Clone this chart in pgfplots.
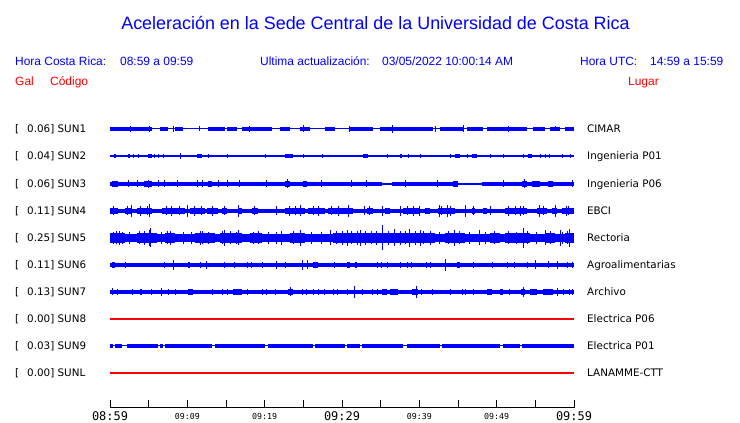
\documentclass[border=0pt]{standalone}
\usepackage{pgfplots}
\pgfplotsset{compat=1.18}
\usepackage{fontspec}
\setmainfont{Liberation Sans}
\newfontfamily\dejavu{DejaVu Sans}
\newfontfamily\dmono{DejaVu Sans Mono}
\definecolor{tblue}{RGB}{0,0,255}
\definecolor{tred}{RGB}{255,0,0}
\pgfplotsset{
  seg/.style={draw=none, forget plot, error bars/x dir=plus, error bars/x explicit,
    error bars/error mark=none, error bars/error bar style={draw=tblue, line width=#1, solid}},
  spk/.style={draw=none, forget plot, error bars/y dir=both, error bars/y explicit,
    error bars/error mark=none, error bars/error bar style={draw=tblue, line width=#1, solid}},
  base/.style={tblue, line width=#1, forget plot},
}
\begin{document}
\begin{tikzpicture}
\useasboundingbox (0,0) rectangle (740bp,423bp);
\begin{axis}[at={(110bp,0bp)}, anchor=south west, scale only axis,
  width=464bp, height=423bp, xmin=0, xmax=60, ymin=-423, ymax=0,
  hide axis, clip=false, enlargelimits=false]
% ---------------- SUN1 (row 129)
\addplot[base=1bp] coordinates {(0,-129) (60,-129)};
\addplot[seg=3.5bp] table[row sep=\\, x=a, y expr=-129, x error expr=\thisrow{b}-\thisrow{a}]
{a b\\ 0 5.43\\ 6.47 7.50\\ 8.41 9.44\\ 12.67 14.87\\ 15.13 16.42\\ 17.07 20.95\\ 21.98 23.28\\ 24.57 25.86\\ 27.80 29.09\\ 31.03 34.01\\ 34.91 41.77\\ 42.67 45.65\\ 46.16 48.23\\ 48.75 53.92\\ 54.70 56.25\\ 56.90 58.19\\ 58.84 60\\};
\addplot[spk=1bp] table[row sep=\\, x=t, y expr=-129, y error=e]
{t e\\ 2.59 3\\ 5.17 3\\ 8.15 3\\ 11.51 2.5\\ 18.10 3\\ 24.96 3.5\\ 31.03 3\\ 36.59 4\\ 42.03 3\\ 45.65 3.5\\ 51.47 3\\ 57.67 2.5\\};
% ---------------- SUN2 (row 156)
\addplot[base=1.3bp] coordinates {(0,-156) (60,-156)};
\addplot[seg=4bp] table[row sep=\\, x=a, y expr=-156, x error expr=\thisrow{b}-\thisrow{a}]
{a b\\ 4.91 5.43\\ 11.25 11.90\\ 22.63 23.66\\ 32.72 33.36\\ 44.61 45.26\\ 46.81 47.46\\ 54.05 54.57\\};
\addplot[spk=1.5bp] table[row sep=\\, x=t, y expr=-156, y error=e]
{t e\\ 0.65 2\\ 2.46 2\\ 3.04 2\\ 3.69 2\\ 5.75 2\\ 6.27 2\\ 6.92 2\\ 9.12 3\\ 12.74 2\\ 15.19 2\\ 20.11 2\\ 25.02 2\\ 27.48 2\\ 35.88 2\\ 37.63 2\\ 38.60 2\\ 40.15 2\\ 44.03 2\\ 46.23 2\\ 49.20 2\\ 50.88 2\\ 53.47 2\\ 55.67 2\\ 56.31 2\\ 56.83 2\\ 58.51 2\\ 59.55 2\\};
% ---------------- SUN3 (row 184)
\addplot[base=1.3bp] coordinates {(0,-184) (60,-184)};
\addplot[seg=3.5bp] table[row sep=\\, x=a, y expr=-184, x error expr=\thisrow{b}-\thisrow{a}]
{a b\\ 0 35.17\\ 36.47 45.0\\ 48.1 60\\};
\addplot[seg=6bp] table[row sep=\\, x=a, y expr=-184, x error expr=\thisrow{b}-\thisrow{a}]
{a b\\ 0.26 1.03\\ 4.40 5.43\\ 12.67 13.19\\ 22.63 23.28\\ 24.96 25.47\\ 44.35 45.0\\ 53.27 53.92\\ 54.57 55.60\\ 56.64 57.28\\};
\addplot[spk=1bp] table[row sep=\\, x=t, y expr=-184, y error=e]
{t e\\ 2.33 3.5\\ 3.62 3.5\\ 5.0 4\\ 6.21 3.5\\ 7.11 3.5\\ 8.79 3.5\\ 11.25 3.5\\ 11.90 3.5\\ 13.97 3.5\\ 15.13 3.5\\ 16.81 3.5\\ 20.30 3.5\\ 23.0 4.5\\ 27.41 3.5\\ 31.29 3.5\\ 33.23 3.5\\ 38.15 3.5\\ 42.41 3.5\\ 50.82 3.5\\ 53.6 4.5\\ 59.87 3.5\\};
% ---------------- SUN4 (row 211)
\addplot[base=1bp] coordinates {(0,-211) (60,-211)};
\addplot[seg=4bp] table[row sep=\\, x=a, y expr=-211, x error expr=\thisrow{b}-\thisrow{a}]
{a b\\ 0 60\\};
\addplot[seg=6.5bp] table[row sep=\\, x=a, y expr=-211, x error expr=\thisrow{b}-\thisrow{a}]
{a b\\ 0 1.03\\ 1.94 2.84\\ 3.49 5.43\\ 6.72 9.70\\ 10.34 12.28\\ 12.54 13.97\\ 14.48 15.13\\ 16.55 17.07\\ 18.36 19.14\\ 22.63 25.22\\ 25.60 27.80\\ 28.19 31.42\\ 33.23 34.01\\ 35.56 36.21\\ 37.89 40.09\\ 40.73 41.38\\ 42.41 44.61\\ 46.81 47.20\\ 48.23 48.75\\ 51.08 53.92\\ 55.22 56.51\\ 57.15 57.80\\ 58.45 60\\};
\addplot[spk=1bp] table[row sep=\\, x=t, y expr=-211, y error=e]
{t e\\ 0.5 4.5\\ 2.2 4.5\\ 2.72 6\\ 4.0 5\\ 4.8 4.5\\ 5.17 6.5\\ 7.3 4.5\\ 8.0 5\\ 9.0 4.5\\ 9.96 6\\ 10.99 5\\ 11.8 4.5\\ 13.2 5\\ 14.8 4.5\\ 16.68 6\\ 18.7 4.5\\ 21.59 4.5\\ 23.2 5\\ 24.0 4.5\\ 24.57 5.5\\ 26.3 4.5\\ 27.0 5\\ 28.7 4.5\\ 29.6 5\\ 30.78 6\\ 32.97 4.5\\ 33.6 4.5\\ 35.30 5\\ 37.50 5\\ 38.5 4.5\\ 39.3 5\\ 39.96 5\\ 42.67 6\\ 42.9 4.5\\ 43.58 6\\ 44.0 5\\ 45.91 6\\ 47.0 4.5\\ 49.14 4.5\\ 51.5 5\\ 52.4 4.5\\ 53.02 5\\ 53.5 4.5\\ 55.60 6\\ 56.0 4.5\\ 57.67 6\\ 58.97 5\\ 59.3 4.5\\};
% ---------------- SUN5 (row 238)
\addplot[base=1bp] coordinates {(0,-238) (60,-238)};
\addplot[seg=8bp] table[row sep=\\, x=a, y expr=-238, x error expr=\thisrow{b}-\thisrow{a}]
{a b\\ 0 60\\};
\addplot[seg=10bp] table[row sep=\\, x=a, y expr=-238, x error expr=\thisrow{b}-\thisrow{a}]
{a b\\ 0 1.94\\ 3.49 6.08\\ 7.11 8.41\\ 10.99 13.58\\ 14.22 17.07\\ 18.10 19.66\\ 23.28 25.22\\ 28.84 42.03\\ 43.32 45.91\\ 49.14 50.43\\ 51.08 54.31\\ 56.25 57.54\\ 58.84 60\\};
\addplot[spk=1bp] table[row sep=\\, x=t, y expr=-238, y error=e]
{t e\\ 0.4 6\\ 0.9 6.5\\ 1.29 7\\ 1.6 6\\ 2.5 6\\ 3.8 6.5\\ 4.4 7\\ 5.17 8\\ 5.30 9.5\\ 6.6 6\\ 7.4 6.5\\ 7.76 7\\ 9.5 6\\ 10.5 6\\ 11.64 7\\ 12.0 6.5\\ 12.8 6\\ 14.5 6.5\\ 14.87 8\\ 15.6 6.5\\ 16.3 6\\ 16.68 7.5\\ 18.6 6\\ 19.2 6.5\\ 20.5 6\\ 21.5 6\\ 22.24 7\\ 23.7 6.5\\ 24.57 8\\ 26.0 6\\ 27.3 6\\ 28.45 7.5\\ 29.3 6.5\\ 30.0 7\\ 30.65 8\\ 31.2 6.5\\ 32.0 7\\ 32.33 8\\ 33.0 7\\ 33.8 6.5\\ 34.5 7\\ 35.30 12.5\\ 36.0 7\\ 36.85 8.5\\ 37.5 7\\ 38.2 6.5\\ 38.79 9\\ 39.5 7\\ 40.09 8\\ 40.6 6.5\\ 41.4 7\\ 42.6 6\\ 43.8 6.5\\ 44.61 8\\ 45.2 6.5\\ 46.5 6\\ 47.84 7.5\\ 48.5 6\\ 49.7 6.5\\ 51.5 6.5\\ 52.6 6\\ 53.41 10\\ 54.0 6.5\\ 55.2 6\\ 56.25 7.5\\ 57.0 6.5\\ 58.19 8\\ 58.5 6\\ 59.2 6.5\\ 59.48 9\\};
% ---------------- SUN6 (row 265)
\addplot[base=1bp] coordinates {(0,-265) (60,-265)};
\addplot[seg=3.5bp] table[row sep=\\, x=a, y expr=-265, x error expr=\thisrow{b}-\thisrow{a}]
{a b\\ 0 60\\};
\addplot[seg=6bp] table[row sep=\\, x=a, y expr=-265, x error expr=\thisrow{b}-\thisrow{a}]
{a b\\ 0.26 0.65\\ 26.25 26.90\\ 30.65 31.03\\ 31.68 31.94\\ 44.87 45.26\\};
\addplot[spk=1bp] table[row sep=\\, x=t, y expr=-265, y error=e]
{t e\\ 1.94 3\\ 7.11 3\\ 8.15 5\\ 10.09 3\\ 10.34 3\\ 11.64 3\\ 12.54 4\\ 14.87 3\\ 16.16 3\\ 17.72 3\\ 18.36 3\\ 19.66 3\\ 21.47 4\\ 22.63 3\\ 24.83 5\\ 25.54 4.5\\ 29.09 3\\ 34.65 3\\ 35.17 3\\ 35.82 3\\ 37.50 3\\ 38.41 3\\ 39.05 3\\ 40.99 3\\ 41.38 3\\ 43.32 6\\ 46.94 3\\ 49.40 3\\ 51.34 3\\ 52.37 3\\ 54.05 3\\ 54.96 4.5\\ 56.64 3.5\\ 57.93 4\\ 59.22 3\\ 59.87 3\\};
% ---------------- SUN7 (row 292)
\addplot[base=1bp] coordinates {(0,-292) (60,-292)};
\addplot[seg=3.5bp] table[row sep=\\, x=a, y expr=-292, x error expr=\thisrow{b}-\thisrow{a}]
{a b\\ 0 60\\};
\addplot[seg=6bp] table[row sep=\\, x=a, y expr=-292, x error expr=\thisrow{b}-\thisrow{a}]
{a b\\ 3.88 4.14\\ 10.09 10.73\\ 15.91 17.07\\ 23.02 23.66\\ 35.17 35.82\\ 36.21 37.24\\ 39.05 39.83\\ 48.75 49.40\\ 50.43 50.82\\ 53.15 53.66\\ 54.31 55.22\\ 55.99 57.28\\};
\addplot[spk=1bp] table[row sep=\\, x=t, y expr=-292, y error=e]
{t e\\ 0.26 3.5\\ 1.03 3\\ 2.97 3\\ 5.43 3\\ 6.72 4\\ 7.50 3\\ 8.41 3\\ 13.19 3\\ 14.61 3\\ 15.13 3\\ 17.72 3\\ 19.66 3\\ 20.30 3\\ 21.34 3\\ 23.3 4.5\\ 24.83 3\\ 25.47 3\\ 26.25 3\\ 26.90 3\\ 27.80 3\\ 28.84 3\\ 29.48 3\\ 30.65 3\\ 31.68 6\\ 32.59 3\\ 33.88 3\\ 34.65 3\\ 39.57 6\\ 40.34 3\\ 41.64 3\\ 43.97 3\\ 45.52 3\\ 45.91 3\\ 46.94 3\\ 51.72 3\\ 53.41 5\\ 57.93 4\\ 58.58 3\\ 59.48 3\\ 59.87 3\\};
% ---------------- SUN8 (row 319)
\addplot[tred, line width=1.2bp, forget plot] coordinates {(0,-319) (60,-319)};
% ---------------- SUN9 (row 346)
\addplot[base=1bp] coordinates {(0,-346) (60,-346)};
\addplot[seg=3.5bp] table[row sep=\\, x=a, y expr=-346, x error expr=\thisrow{b}-\thisrow{a}]
{a b\\ 0 0.39\\ 0.65 1.55\\ 2.20 6.21\\ 6.47 6.85\\ 7.11 13.19\\ 13.58 20.04\\ 20.43 26.25\\ 26.51 30.39\\ 30.65 32.33\\ 32.59 37.89\\ 38.41 42.67\\ 42.93 50.43\\ 50.82 53.02\\ 53.27 60\\};
% ---------------- SUNL (row 373)
\addplot[tred, line width=1.2bp, forget plot] coordinates {(0,-373) (60,-373)};
\end{axis}
\begin{scope}[x=1bp, y=-1bp, yshift=423bp]
% time axis
\draw[line width=1bp] (110,408) -- (574,408);
\foreach \k in {0,...,12} \draw[line width=1bp] ({110+\k*38.6667},400) -- ({110+\k*38.6667},408.5);
\foreach \x/\l in {110/08:59, 342/09:29, 574/09:59}
  \node[anchor=base, inner sep=0, font=\dmono\fontsize{12}{12}\selectfont] at (\x,421) {\l};
\foreach \x/\l in {187.33/09:09, 264.67/09:19, 419.33/09:39, 496.67/09:49}
  \node[anchor=base, inner sep=0, font=\dmono\fontsize{8.3}{8.3}\selectfont] at (\x,419.5) {\l};
% header
\node[anchor=base, inner sep=0, text=tblue, font=\fontsize{18}{18}\selectfont] at (375.5,30) {Aceleración en la Sede Central de la Universidad de Costa Rica};
\begin{scope}[every node/.style={anchor=base west, inner sep=0, text=tblue, font=\fontsize{12}{12}\selectfont}]
\node at (15,65.5) {Hora Costa Rica:};
\node at (120,65.5) {08:59 a 09:59};
\node at (260,65.5) {Ultima actualización:};
\node at (382,65.5) {03/05/2022 10:00:14 AM};
\node at (580,65.5) {Hora UTC:};
\node at (650,65.5) {14:59 a 15:59};
\end{scope}
\begin{scope}[every node/.style={anchor=base west, inner sep=0, text=tred, font=\fontsize{12}{12}\selectfont}]
\node at (15,85.5) {Gal};
\node at (50,85.5) {Código};
\node at (628,85.5) {Lugar};
\end{scope}
% trace labels
\begin{scope}[every node/.style={anchor=base west, inner sep=0, font=\dejavu\fontsize{10.4}{10.4}\selectfont}]
\foreach \r/\v/\c/\p in {129/0.06/SUN1/CIMAR, 156/0.04/SUN2/Ingenieria P01, 184/0.06/SUN3/Ingenieria P06, 211/0.11/SUN4/EBCI, 238/0.25/SUN5/Rectoria, 265/0.11/SUN6/Agroalimentarias, 292/0.13/SUN7/Archivo, 319/0.00/SUN8/Electrica P06, 346/0.03/SUN9/Electrica P01, 373/0.00/SUNL/LANAMME-CTT}{
  \node at (15,\r+3.8) {[};
  \node at (27,\r+3.8) {\v] \c};
  \node at (587,\r+3.8) {\p};
}
\end{scope}
\end{scope}
\end{tikzpicture}
\end{document}
